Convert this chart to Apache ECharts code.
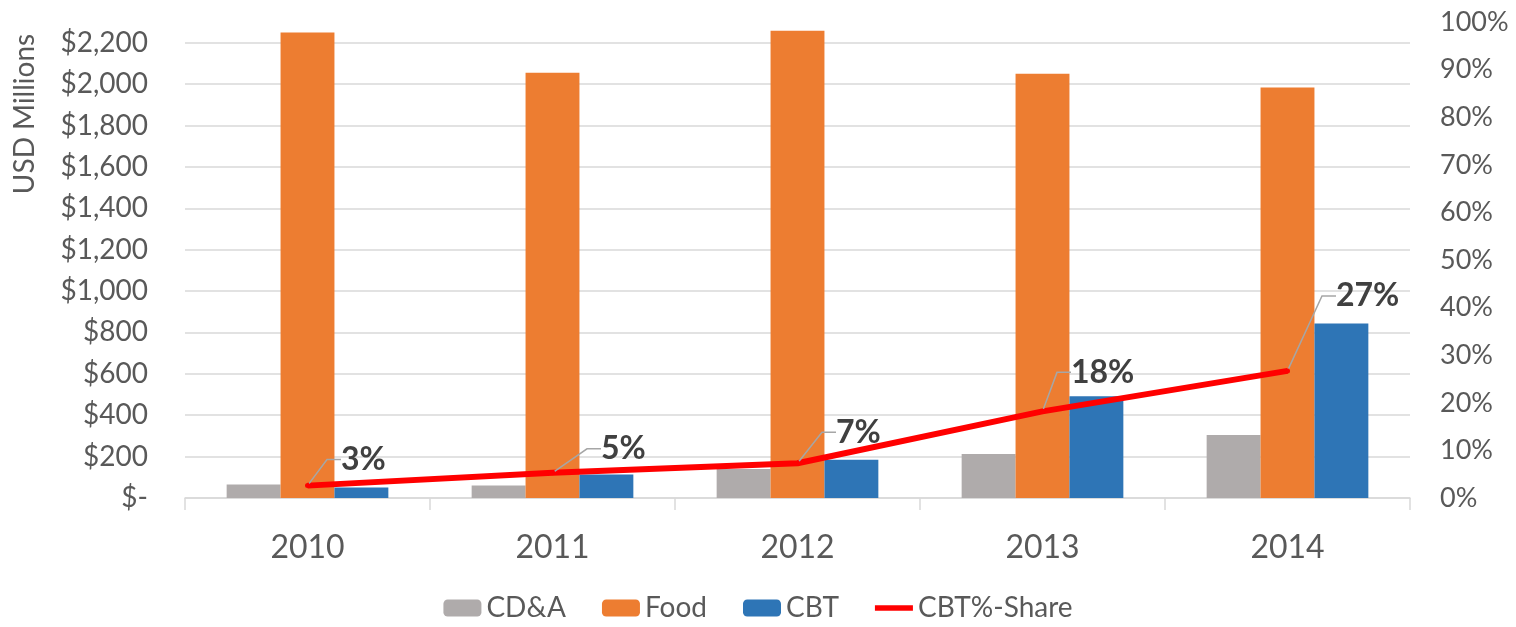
<!DOCTYPE html>
<html>
<head>
<meta charset="utf-8">
<script src="https://cdn.jsdelivr.net/npm/echarts@6/dist/echarts.min.js"></script>
<style>
  html, body { margin: 0; padding: 0; background: #fff; }
  #chart { width: 1516px; height: 627px; }
</style>
</head>
<body>
<div id="chart"></div>
<script>
var years = ['2010', '2011', '2012', '2013', '2014'];
var cdaValues = [65, 60, 140, 213, 305];
var foodValues = [2249, 2055, 2258, 2050, 1983];
var cbtValues = [51, 114, 185, 492, 843];
var shareValues = [2.6, 5.3, 7.3, 18.2, 26.7];

(function() {
  var font = 'Lato, "Open Sans", sans-serif';
  var muted = '#595959';
  var rule = '#d9d9d9';
  // label nudges (px) for the share labels, per point
  var labelShift = [[26, -26], [41, -24], [31, -31], [21, -39], [41, -75]];

  var chart = echarts.init(document.getElementById('chart'), null, { renderer: 'canvas' });
  chart.setOption({
    animation: false,
    textStyle: { fontFamily: font },
    grid: { left: 185, right: 106, top: 22, bottom: 129 },
    legend: {
      bottom: 0,
      left: 'center',
      itemWidth: 38,
      itemHeight: 17,
      itemGap: 36,
      textStyle: { color: muted, fontSize: 28, fontFamily: font },
      data: [
        'CD&A', 'Food', 'CBT',
        { name: 'CBT%-Share', icon: 'path://M0,0 L40,0 L40,6 L0,6 Z' }
      ]
    },
    graphic: [{
      type: 'text',
      x: 25,
      y: 114,
      rotation: Math.PI / 2,
      style: {
        text: 'USD Millions',
        font: '28px ' + font,
        fill: muted,
        textAlign: 'center',
        textVerticalAlign: 'middle'
      }
    }],
    xAxis: {
      type: 'category',
      data: years,
      axisLine: { lineStyle: { color: rule, width: 1.5 } },
      axisTick: { show: true, length: 12, lineStyle: { color: rule, width: 1.5 } },
      axisLabel: { color: muted, fontSize: 32, margin: 34 }
    },
    yAxis: [
      {
        type: 'value',
        min: 0,
        max: 2300,
        interval: 200,
        axisLine: { show: false },
        axisTick: { show: false },
        axisLabel: {
          color: muted,
          fontSize: 28,
          margin: 37,
          showMaxLabel: false,
          formatter: function(v) {
            if (v === 0) return '$-';
            if (v > 2200) return '';
            return '$' + v.toLocaleString('en-US');
          }
        },
        splitLine: { showMaxLine: false, lineStyle: { color: rule, width: 1.5 } }
      },
      {
        type: 'value',
        min: 0,
        max: 100,
        interval: 10,
        axisLine: { show: false },
        axisTick: { show: false },
        axisLabel: { color: muted, fontSize: 27, margin: 30, formatter: '{value}%' },
        splitLine: { show: false }
      }
    ],
    series: [
      {
        name: 'CD&A',
        type: 'bar',
        data: cdaValues,
        barGap: '0%',
        barCategoryGap: '34%',
        itemStyle: { color: '#AFABAB' }
      },
      {
        name: 'Food',
        type: 'bar',
        data: foodValues,
        barGap: '0%',
        barCategoryGap: '34%',
        itemStyle: { color: '#ED7D31' }
      },
      {
        name: 'CBT',
        type: 'bar',
        data: cbtValues,
        barGap: '0%',
        barCategoryGap: '34%',
        itemStyle: { color: '#2E75B6' }
      },
      {
        name: 'CBT%-Share',
        type: 'line',
        yAxisIndex: 1,
        data: shareValues,
        symbol: 'circle',
        symbolSize: 5,
        itemStyle: { color: '#FF0000' },
        lineStyle: { color: '#FF0000', width: 6 },
        z: 5,
        label: {
          show: true,
          position: 'right',
          color: '#404040',
          fontSize: 32,
          fontWeight: 'bold',
          formatter: function(p) { return Math.round(p.value) + '%'; }
        },
        labelLayout: function(p) {
          var s = labelShift[p.dataIndex];
          return { dx: s[0], dy: s[1] };
        },
        labelLine: {
          show: true,
          length2: 14,
          lineStyle: { color: '#a6a6a6', width: 1.5 }
        }
      }
    ]
  });
  window.addEventListener('resize', function() { chart.resize(); });
})();
</script>
</body>
</html>
